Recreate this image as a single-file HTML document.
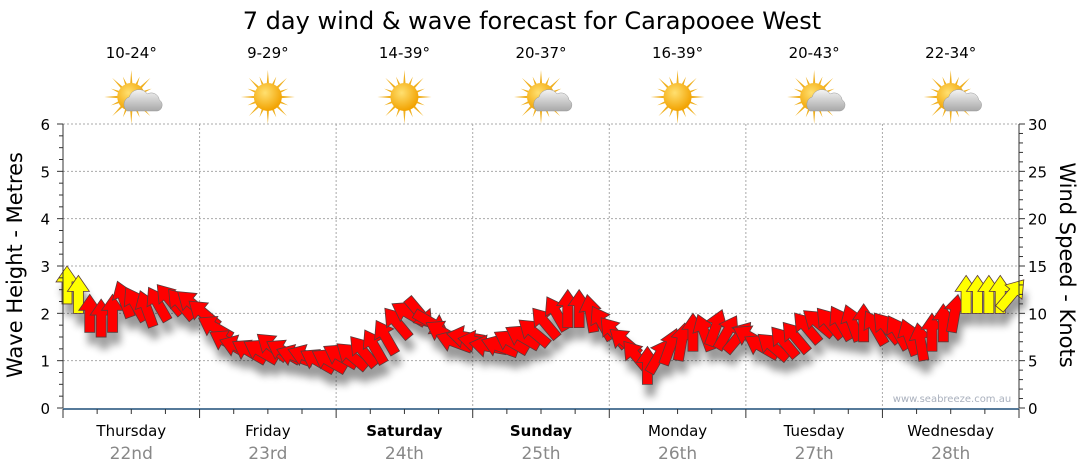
<!DOCTYPE html>
<html><head><meta charset="utf-8"><style>
body{margin:0;background:#fff;}
svg{display:block;font-family:"DejaVu Sans","Liberation Sans",sans-serif;}
</style></head><body>
<svg id="c" width="1080" height="475" viewBox="0 0 1080 475">
<defs>
<filter id="sh" x="-50%" y="-50%" width="200%" height="200%"><feGaussianBlur stdDeviation="4"/></filter>
<radialGradient id="sun" cx="40%" cy="35%" r="65%"><stop offset="0" stop-color="#ffe070"/><stop offset="1" stop-color="#f2a200"/></radialGradient>
<linearGradient id="cloud" x1="0" y1="0" x2="0" y2="1"><stop offset="0" stop-color="#f4f4f4"/><stop offset="1" stop-color="#a8a8a8"/></linearGradient>
</defs>
<text x="532" y="29" font-size="24" text-anchor="middle" fill="#000">7 day wind &amp; wave forecast for Carapooee West</text>
<g id="grid"></g><g id="shadows" filter="url(#sh)" opacity="0.4"></g><g id="arrows"></g><g id="axes"></g><g id="topg"></g>
<text x="952" y="402" font-size="10" text-anchor="middle" fill="#a9b0bd">www.seabreeze.com.au</text>
<text transform="translate(22,265) rotate(-90)" font-size="21" text-anchor="middle">Wave Height - Metres</text>
<text transform="translate(1060,265) rotate(90)" font-size="21" text-anchor="middle">Wind Speed - Knots</text>
</svg>
<script>
const days=["Thursday","Friday","Saturday","Sunday","Monday","Tuesday","Wednesday"];
const dates=["22nd","23rd","24th","25th","26th","27th","28th"];
const temps=["10-24°","9-29°","14-39°","20-37°","16-39°","20-43°","22-34°"];
const cloudy=[1,0,0,1,0,1,1];
const waveTicks=[0,1,2,3,4,5,6];
const windTicks=[0,5,10,15,20,25,30];
const windSpeed=[13,12,10,9.5,10,11.5,11,10.5,11,11.5,11,11,
10,8.5,7,6.5,6,6,6.5,6,5.5,5.5,5,5,
5.5,5.5,6,6.5,7.5,9,10,10,9,8,7,7.5,
7,6.5,6.5,7,7.5,8,9,10,10.5,10.5,10,9,
8,7,5.5,4.5,5.5,6.5,7,8,8,8.5,8,7.5,
7.5,6.5,6.5,7,7.5,8.5,9,9,9,9,9,8.5,
8.5,8,7.5,7,8,9,10,12,12,12,12,12];
const windDir=[0,0,0,0,0,-20,-30,-20,-30,-40,-40,-50,
-50,-60,-60,-70,-60,-60,-50,-60,-70,-70,-60,-60,
-60,-50,-40,-30,-30,-40,-60,140,120,-60,-70,-80,
-80,-80,-70,-60,-60,-50,-40,-30,0,0,-10,-30,
-40,-50,-40,0,30,20,10,0,-20,20,30,40,
-60,-60,-50,-40,-40,-40,-50,-40,-30,-20,0,-30,
-40,-30,-20,-10,0,0,10,0,0,0,0,40];
const X0=63,X1=1019,Y0=408,Y1=124,perDay=12;
const dayW=(X1-X0)/7;
const xT=i=>X0+i*dayW/perDay+4;
const yW=m=>Y0-(Y0-Y1)*m/6;
const yK=k=>Y0-(Y0-Y1)*k/30;
const NS="http://www.w3.org/2000/svg";
function mk(tag,attrs,parent,txt){const e=document.createElementNS(NS,tag);for(const k in attrs)e.setAttribute(k,attrs[k]);if(txt!==undefined)e.textContent=txt;parent.appendChild(e);return e;}
const grid=document.getElementById('grid'),axes=document.getElementById('axes'),topG=document.getElementById('topg');
waveTicks.forEach(v=>{if(v>0){const l=mk('line',{x1:X0,x2:X1,y1:yW(v),y2:yW(v),stroke:'#aaa','stroke-dasharray':'2,2'},grid);

}
const t=mk('text',{x:50,y:yW(v)+6,'font-size':15,'text-anchor':'end'},axes,v);

});
windTicks.forEach(v=>{const t=mk('text',{x:1028,y:yK(v)+6,'font-size':15},axes,v);

});
for(let m=0;m<=24;m++){mk('line',{x1:X0-(m%4?4:6),x2:X0,y1:yW(m/4),y2:yW(m/4),stroke:'#333'},axes);}
for(let k=0;k<=30;k++){mk('line',{x1:X1,x2:X1+(k%5?4:6),y1:yK(k),y2:yK(k),stroke:'#333'},axes);}
mk('line',{x1:X0,x2:X0,y1:Y1,y2:Y0,stroke:'#333'},axes);
mk('line',{x1:X1,x2:X1,y1:Y1,y2:Y0,stroke:'#333'},axes);
const xa=mk('line',{x1:X0,x2:X1,y1:Y0+1,y2:Y0+1,stroke:'#1f4e79','stroke-width':1.5},axes);


for(let q=0;q<=28;q++){const x=X0+q*dayW/4;mk('line',{x1:x,x2:x,y1:Y0+1,y2:Y0+(q%4?6:10),stroke:'#333'},axes);
if(q%4==0&&q>0&&q<28)mk('line',{x1:x,x2:x,y1:Y1,y2:Y0,stroke:'#aaa','stroke-dasharray':'2,2'},grid);}
days.forEach((d,i)=>{const cx=X0+(i+0.5)*dayW;
const a=mk('text',{x:cx,y:436,'font-size':15,'text-anchor':'middle','font-weight':(i==2||i==3)?'bold':'normal'},topG,d);


const b=mk('text',{x:cx,y:459,'font-size':17,'text-anchor':'middle',fill:'#888'},topG,dates[i]);


const c=mk('text',{x:cx,y:58,'font-size':15,'text-anchor':'middle'},topG,temps[i]);


const g=mk('g',{transform:`translate(${cx},97)`},topG);


for(let r=0;r<16;r++){const ang=r*Math.PI/8,L=r%2?22:27;
mk('polygon',{points:`${Math.cos(ang+0.12)*11},${Math.sin(ang+0.12)*11} ${Math.cos(ang)*L},${Math.sin(ang)*L} ${Math.cos(ang-0.12)*11},${Math.sin(ang-0.12)*11}`,fill:'#f0b020'},g);}
mk('circle',{r:14,fill:'url(#sun)'},g);
if(cloudy[i]){mk('path',{d:'M-4,14 a8,8 0 0 1 2,-14 a10,10 0 0 1 18,-3 a8,8 0 0 1 12,6 a6,6 0 0 1 -2,11 z',fill:'url(#cloud)',stroke:'#999','stroke-width':0.5},g);}
});
const arrowPath='M0,-19 L11,-3 L5,-3 L5,19 L-5,19 L-5,-3 L-11,-3 Z';
const ag=document.getElementById('arrows'),sg=document.getElementById('shadows');
windSpeed.forEach((v,i)=>{const x=xT(i),y=yK(v);
mk('path',{d:arrowPath,transform:`translate(${x+3},${y+12}) rotate(${windDir[i]})`,fill:'#000'},sg);
const p=mk('path',{d:arrowPath,transform:`translate(${x},${y}) rotate(${windDir[i]})`,fill:v>=12?'#ffff00':'#ff0000',stroke:'#5a3a3a','stroke-width':0.8},ag);

});
</script>
</body></html>
